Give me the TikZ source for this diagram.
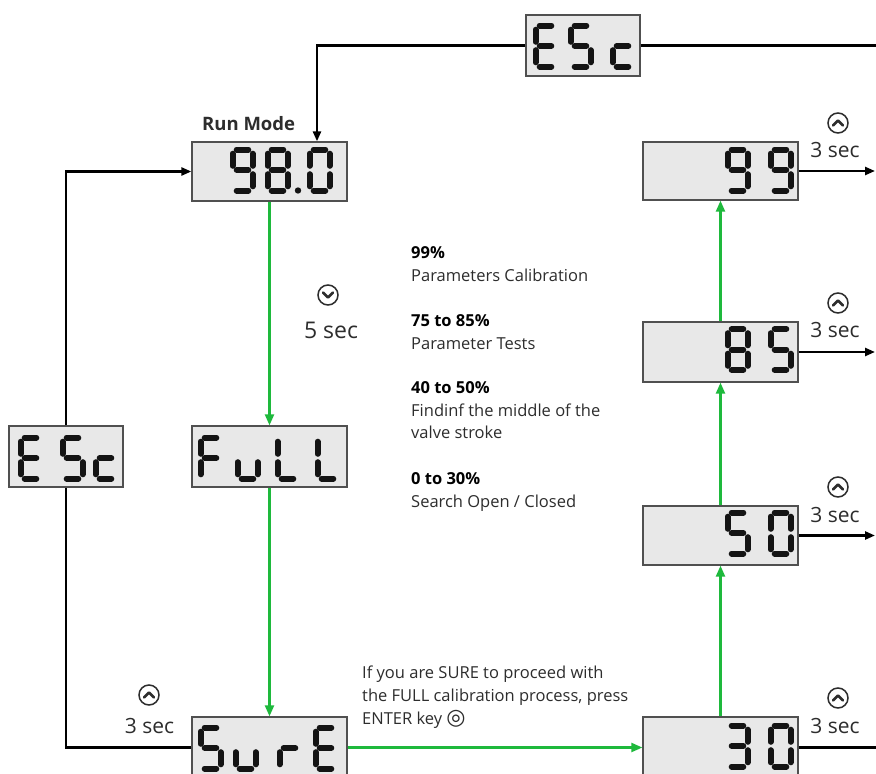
\documentclass[tikz,border=0pt]{standalone}
\usepackage{fontspec}
\setmainfont{Open Sans}
\newfontfamily\symfont{DejaVu Sans}
\usetikzlibrary{arrows.meta}
\definecolor{flowgreen}{RGB}{30,185,60}
\definecolor{boxfill}{RGB}{232,232,232}
\definecolor{boxedge}{RGB}{80,80,80}
\definecolor{segcol}{RGB}{20,20,20}
\definecolor{txtcol}{RGB}{45,45,45}
\tikzset{
  lcd/.style={draw=boxedge, line width=1.3pt, fill=boxfill, minimum width=155pt, minimum height=60pt, inner sep=0pt},
  lcdsmall/.style={lcd, minimum width=114pt, minimum height=61pt},
  blackline/.style={line width=2.4pt, black},
  greenline/.style={line width=2.2pt, flowgreen},
  arrowblack/.style={-{Triangle[length=10pt,width=8pt]}},
  arrowgreen/.style={-{Triangle[length=11pt,width=9pt]}},
  note/.style={font=\fontsize{16.5}{20}\selectfont, text=txtcol, inner sep=0pt, anchor=base west},
  notehead/.style={note, font=\fontsize{16.5}{20}\selectfont\bfseries, text=black},
  secl/.style={font=\fontsize{21}{24}\selectfont, text=txtcol, inner sep=0pt, anchor=base},
  segline/.style={line width=6pt, line cap=round, segcol},
  upicon/.pic={\draw[line width=1.5pt, txtcol] (0,0) circle (10);
               \draw[line width=2.6pt, line cap=round, line join=round, txtcol] (-5,2.5) -- (0,-2.5) -- (5,2.5);},
  downicon/.pic={\draw[line width=1.5pt, txtcol] (0,0) circle (10);
               \draw[line width=2.6pt, line cap=round, line join=round, txtcol] (-5,-2.5) -- (0,2.5) -- (5,-2.5);}
}
% seven segment character: #1 = top-left (x,y), #2..#8 = segments a b c d e f g
\newcommand\segchar[8]{%
  \begin{scope}[shift={#1}]
    \ifnum#2=1 \draw[segline] (4.2,0) -- (15.8,0);\fi
    \ifnum#3=1 \draw[segline] (20,4.2) -- (20,16.3);\fi
    \ifnum#4=1 \draw[segline] (20,24.7) -- (20,36.8);\fi
    \ifnum#5=1 \draw[segline] (4.2,41) -- (15.8,41);\fi
    \ifnum#6=1 \draw[segline] (0,24.7) -- (0,36.8);\fi
    \ifnum#7=1 \draw[segline] (0,4.2) -- (0,16.3);\fi
    \ifnum#8=1 \draw[segline] (4.2,20.5) -- (15.8,20.5);\fi
  \end{scope}}
\begin{document}
\begin{tikzpicture}[x=1pt, y=-1pt]
\path[use as bounding box, clip] (0,0) rectangle (876,774);
\fill[white] (0,0) rectangle (876,774);

% display boxes
\node[lcdsmall] (escTop) at (583,45.5) {};
\node[lcd, minimum height=59pt] (run) at (269.5,171.5) {};
\node[lcdsmall] (escLeft) at (66,456.5) {};
\node[lcd, minimum height=61pt] (full) at (269.5,456.5) {};
\node[lcd, minimum height=61pt] (sure) at (269.5,747.5) {};
\node[lcd, minimum height=58pt] (b99) at (720.5,171) {};
\node[lcd] (b85) at (720.5,352) {};
\node[lcd, minimum height=59pt] (b50) at (720.5,535.5) {};
\node[lcd, minimum height=61pt] (b30) at (720.5,747.5) {};

% free ends on the right edge
\coordinate (eTop) at (876,45.5);
\coordinate (e99) at (875,171);
\coordinate (e85) at (875,352);
\coordinate (e50) at (875,535.5);
\coordinate (e30) at (876,747.5);

% black connectors
\draw[blackline, arrowblack] (escTop.west) -| ([xshift=47.5pt]run.north);
\draw[blackline] (escTop.east) -- (eTop);
\draw[blackline, arrowblack] (escLeft.north) |- (run.west);
\draw[blackline] (escLeft.south) |- (sure.west);
\draw[blackline, arrowblack] (b99.east) -- (e99);
\draw[blackline, arrowblack] (b85.east) -- (e85);
\draw[blackline, arrowblack] (b50.east) -- (e50);
\draw[blackline] (b30.east) -- (e30);

% green connectors
\draw[greenline, arrowgreen] (run.south) -- (full.north);
\draw[greenline, arrowgreen] (full.south) -- (sure.north);
\draw[greenline, arrowgreen] (sure.east) -- (b30.west);
\draw[greenline, arrowgreen] (b30.north) -- (b50.south);
\draw[greenline, arrowgreen] (b50.north) -- (b85.south);
\draw[greenline, arrowgreen] (b85.north) -- (b99.south);

% seven segment contents
% ESc (top)
\segchar{(535.5,25.5)}1001111
\segchar{(570.5,25.5)}1011011
\segchar{(612.5,25.5)}0001101
% 98.0
\segchar{(232.5,149.5)}1111011
\segchar{(267.5,149.5)}1111111
\fill[segcol] (298,190.5) circle (3.2);
\segchar{(309.5,149.5)}1111110
% ESc (left)
\segchar{(20.5,437.5)}1001111
\segchar{(62.5,437.5)}1011011
\segchar{(95.5,437.5)}0001101
% FuLL
\segchar{(200.5,437.5)}1000111
\segchar{(237.5,437.5)}0011100
\segchar{(277.5,437.5)}0001110
\segchar{(317.5,437.5)}0001110
% SurE
\segchar{(200.5,727.5)}1011011
\segchar{(235.5,727.5)}0011100
\segchar{(279.5,727.5)}0000101
\segchar{(315.5,727.5)}1001111
% 99
\segchar{(727.5,149.5)}1111011
\segchar{(770.5,149.5)}1111011
% 85
\segchar{(727.5,329)}1111111
\segchar{(770.5,329)}1011011
% 50
\segchar{(727.5,512.5)}1011011
\segchar{(770.5,512.5)}1111110
% 30
\segchar{(727.5,725.5)}1111001
\segchar{(770.5,725.5)}1111110

% labels
\node[font=\fontsize{18.5}{22}\selectfont\bfseries, text=txtcol, anchor=base west, inner sep=0pt] (runlbl) at (202,130) {Run Mode};

\pic at (328,295) {downicon};
\node[secl, font=\fontsize{23}{26}\selectfont] (t5) at (331,338) {5 sec};

\pic at (838,123) {upicon};
\node[secl] (t99) at (835,157) {3 sec};
\pic at (838,303) {upicon};
\node[secl] (t85) at (835,337) {3 sec};
\pic at (838,487) {upicon};
\node[secl] (t50) at (835,522) {3 sec};
\pic at (838,698) {upicon};
\node[secl] (t30) at (835,733) {3 sec};
\pic at (149,695) {upicon};
\node[secl] (tsure) at (149.5,733) {3 sec};

% notes
\node[notehead] (h99) at (411,258) {99\%};
\node[note] (p99) at (411,281) {Parameters Calibration};
\node[notehead] (h85) at (411,326) {75 to 85\%};
\node[note] (p85) at (411,349) {Parameter Tests};
\node[notehead] (h50) at (411,393) {40 to 50\%};
\node[note] (p50a) at (411,416) {Findinf the middle of the};
\node[note] (p50b) at (411,438) {valve stroke};
\node[notehead] (h30) at (411,484) {0 to 30\%};
\node[note] (p30) at (411,507) {Search Open / Closed};

\node[note] (s1) at (362,678) {If you are SURE to proceed with};
\node[note] (s2) at (362,701) {the FULL calibration process, press};
\node[note] (s3) at (362,724) {ENTER key {\symfont\fontsize{22}{22}\selectfont ◎}};
\end{tikzpicture}
\end{document}
